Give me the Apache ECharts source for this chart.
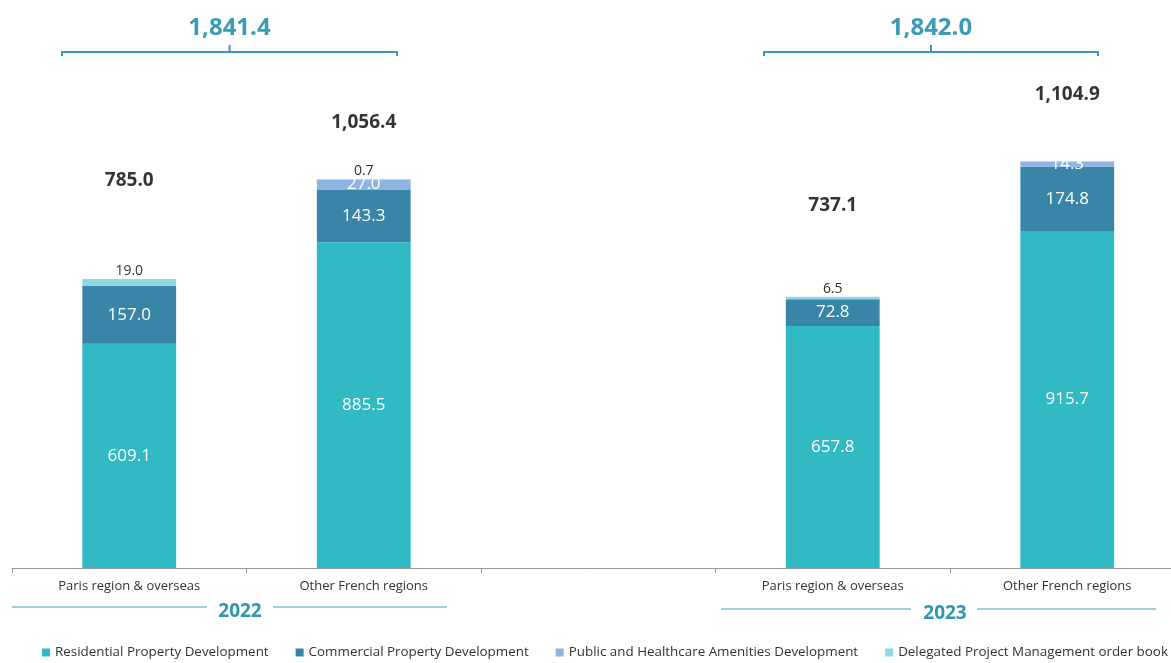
<!DOCTYPE html>
<html>
<head>
<meta charset="utf-8">
<script src="https://cdn.jsdelivr.net/npm/echarts@6/dist/echarts.min.js"></script>
<style>
  html, body { margin: 0; padding: 0; background: #fff; }
  #main { width: 1171px; height: 663px; }
</style>
</head>
<body>
<div id="main"></div>
<script>
// categories (the empty one is the gap between years)
const categories = ['Paris region & overseas', 'Other French regions', '', 'Paris region & overseas', 'Other French regions'];
const residential = [609.1, 885.5, '-', 657.8, 915.7];
const commercial = [157.0, 143.3, '-', 72.8, 174.8];
const publicHealth = [0, 27.0, '-', 0, 14.3];
const delegated = [19.0, 0.7, '-', 6.5, 0];
const totals = [785.0, 1056.4, '-', 737.1, 1104.9];
const yearTotals = ['1,841.4', '1,842.0'];
const years = ['2022', '2023'];

const FONT = 'Open Sans';
const teal = '#3a9bb3';

const fmt = v => v.toLocaleString('en-US', { minimumFractionDigits: 1, maximumFractionDigits: 1 });

let mychart = echarts.init(document.getElementById('main'));

// offsets of the total labels above each stack
const totalOffsets = [-84, -42, 0, -77, -52];

function seg(name, data, color, label) {
  return {
    name: name,
    type: 'bar',
    stack: 'total',
    barWidth: '40%',
    itemStyle: { color: color },
    label: label,
    data: data
  };
}

const whiteLabel = {
  show: true,
  position: 'inside',
  color: '#fff',
  fontFamily: FONT,
  fontSize: 17,
  formatter: p => (p.value ? fmt(p.value) : '')
};

// bracket + year graphics
function bracket(x1, x2, text) {
  const cx = (x1 + x2) / 2;
  return [
    { type: 'polyline', shape: { points: [[x1, 56], [x1, 52], [x2, 52], [x2, 56]] }, style: { stroke: teal, lineWidth: 2, fill: null } },
    { type: 'line', shape: { x1: cx, y1: 52, x2: cx, y2: 45 }, style: { stroke: teal, lineWidth: 2 } },
    { type: 'text', x: cx, y: 28, style: { text: text, fill: teal, font: 'bold 24px "' + FONT + '"', textAlign: 'center', textVerticalAlign: 'middle' } }
  ];
}
function yearLine(l1, l2, r1, r2, cx, y, text) {
  return [
    { type: 'line', shape: { x1: l1, y1: y, x2: l2, y2: y }, style: { stroke: '#7bbfcf', lineWidth: 1.5 } },
    { type: 'line', shape: { x1: r1, y1: y, x2: r2, y2: y }, style: { stroke: '#7bbfcf', lineWidth: 1.5 } },
    { type: 'text', x: cx, y: y + 5, style: { text: text, fill: '#3196ad', font: 'bold 19px "' + FONT + '"', textAlign: 'center', textVerticalAlign: 'middle' } }
  ];
}

var option = {
  animation: false,
  textStyle: { fontFamily: FONT },
  grid: { left: 12, width: 1172.5, top: 16, bottom: 95, outerBoundsMode: 'none', containLabel: false },
  legend: {
    top: 646,
    left: 42,
    width: 1129,
    padding: 0,
    icon: 'rect',
    itemWidth: 8,
    itemHeight: 8,
    itemGap: 27,
    textStyle: { color: '#333', fontSize: 13.4, fontFamily: FONT },
    data: ['Residential Property Development', 'Commercial Property Development', 'Public and Healthcare Amenities Development', 'Delegated Project Management order book']
  },
  xAxis: {
    type: 'category',
    data: categories,
    axisLine: { lineStyle: { color: '#999' } },
    axisTick: { show: true, length: 5, lineStyle: { color: '#999' } },
    axisLabel: { color: '#333', fontSize: 13, fontFamily: FONT, margin: 12 }
  },
  yAxis: {
    type: 'value',
    min: 0,
    max: 1500,
    show: false,
    splitLine: { show: false }
  },
  series: [
    seg('Residential Property Development', residential, '#31b9c4', whiteLabel),
    seg('Commercial Property Development', commercial, '#3885a8', whiteLabel),
    seg('Public and Healthcare Amenities Development', publicHealth, '#8db4e3', whiteLabel),
    seg('Delegated Project Management order book', delegated, '#8ed8e2', {
      show: true,
      position: 'top',
      distance: 1,
      color: '#333',
      fontFamily: FONT,
      fontSize: 14,
      formatter: p => (p.value ? fmt(p.value) : '')
    }),
    {
      name: 'total',
      type: 'scatter',
      symbolSize: 0,
      silent: true,
      label: {
        show: true,
        position: 'top',
        color: '#000',
        fontFamily: FONT,
        fontWeight: 'bold',
        fontSize: 19,
        formatter: p => fmt(p.value)
      },
      data: totals.map((v, i) => ({ value: v, label: { offset: [0, totalOffsets[i]] } }))
    }
  ],
  graphic: [
    ...bracket(62, 397, yearTotals[0]),
    ...bracket(764, 1098, yearTotals[1]),
    ...yearLine(12, 207, 273, 447, 240, 607, years[0]),
    ...yearLine(721, 911, 977, 1156, 945, 609, years[1])
  ]
};

mychart.setOption(option);
</script>
</body>
</html>
